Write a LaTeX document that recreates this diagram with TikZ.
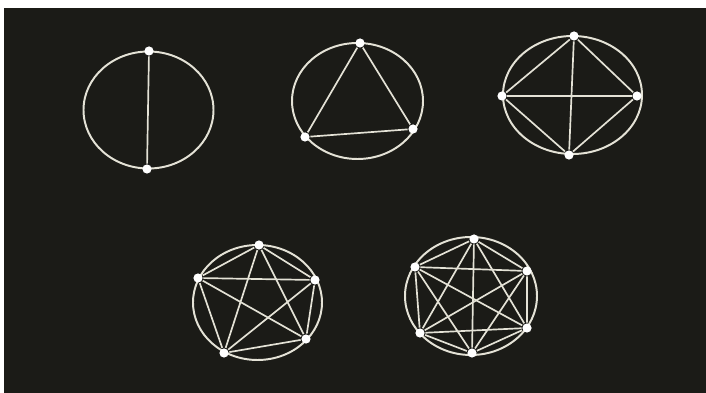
\documentclass[tikz,border=0pt]{standalone}
\usepackage{tikz}
\definecolor{board}{HTML}{1B1B17}
\definecolor{chalk}{HTML}{E4E2D6}
\tikzset{vtx/.style={circle, fill=white, draw=none, minimum size=2.3mm,
  inner sep=0pt}}

\begin{document}
\begin{tikzpicture}[x=0.025cm, y=-0.025cm, line width=1.2pt,
  edge/.style={draw=chalk, line width=1.2pt},
  rim/.style={draw=chalk, line width=1.4pt}]
  % background with the light strip at top and left
  \fill[white] (0,0) rectangle (706,393);
  \fill[board] (4,8) rectangle (706,393);
  % centres of the rims
  \coordinate (c1) at (148.5, 110);
  \coordinate (c2) at (357.5, 101);
  \coordinate (c3) at (572.5, 95);
  \coordinate (c4) at (257.5, 302.5);
  \coordinate (c5) at (471, 296);
  \draw[rim] (c1) ellipse [x radius=65, y radius=58.5];
  \draw[rim] (c2) ellipse [x radius=65.5, y radius=58];
  \draw[rim] (c3) ellipse [x radius=69.5, y radius=59];
  \draw[rim] (c4) ellipse [x radius=64.5, y radius=57.5];
  \draw[rim] (c5) ellipse [x radius=66, y radius=59];
  % two points
  \node[vtx] (a1) at (149, 51)  {};
  \node[vtx] (a2) at (147, 169) {};
  \draw[edge] (a1) -- (a2);
  % three points
  \node[vtx] (b1) at (360, 43)  {};
  \node[vtx] (b2) at (305, 137) {};
  \node[vtx] (b3) at (413, 129) {};
  \draw[edge] (b1) -- (b2) -- (b3) -- (b1);
  % four points
  \node[vtx] (d1) at (574, 36)  {};
  \node[vtx] (d2) at (502, 96)  {};
  \node[vtx] (d3) at (637, 96)  {};
  \node[vtx] (d4) at (569, 155) {};
  \draw[edge] (d1) -- (d2) -- (d4) -- (d3) -- (d1);
  \draw[edge] (d1) -- (d4);
  \draw[edge] (d2) -- (d3);
  % five points
  \node[vtx] (e1) at (259, 245) {};
  \node[vtx] (e2) at (198, 278) {};
  \node[vtx] (e3) at (315, 280) {};
  \node[vtx] (e4) at (224, 353) {};
  \node[vtx] (e5) at (306, 339) {};
  \draw[edge] (e1) -- (e2) -- (e4) -- (e5) -- (e3) -- (e1);
  \draw[edge] (e1) -- (e4) (e1) -- (e5);
  \draw[edge] (e2) -- (e3) (e2) -- (e5);
  \draw[edge] (e3) -- (e4);
  % six points
  \node[vtx] (f1) at (474, 239) {};
  \node[vtx] (f2) at (415, 267) {};
  \node[vtx] (f3) at (527, 271) {};
  \node[vtx] (f4) at (420, 333) {};
  \node[vtx] (f5) at (527, 328) {};
  \node[vtx] (f6) at (472, 353) {};
  \draw[edge] (f1) -- (f2) -- (f4) -- (f6) -- (f5) -- (f3) -- (f1);
  \draw[edge] (f1) -- (f4) (f1) -- (f5) (f1) -- (f6);
  \draw[edge] (f2) -- (f3) (f2) -- (f5) (f2) -- (f6);
  \draw[edge] (f3) -- (f4) (f3) -- (f6);
  \draw[edge] (f4) -- (f5);
\end{tikzpicture}
\end{document}
